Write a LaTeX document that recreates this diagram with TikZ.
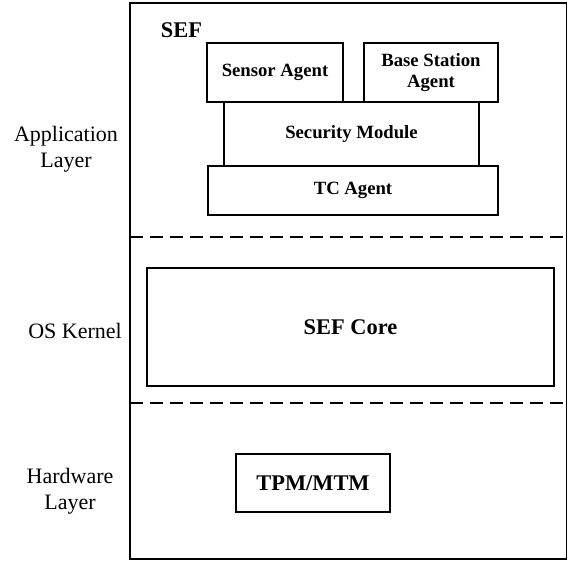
\documentclass[tikz,border=0pt]{standalone}
\usepackage{fontspec}
\setmainfont{Liberation Serif}
\begin{document}
\begin{tikzpicture}[x=1pt,y=-1pt,
  layerlabel/.style={align=center,font=\fontsize{22}{26}\selectfont},
  modbox/.style={draw,line width=1.1pt,inner sep=0pt,align=center,
    font=\fontsize{18.7}{21}\selectfont\bfseries},
  bigbox/.style={draw,line width=1.1pt,inner sep=0pt,align=center,
    font=\fontsize{22.4}{26}\selectfont\bfseries},
  sep/.style={dashed,dash pattern=on 13pt off 7pt,line width=1.2pt}]
\useasboundingbox (0,0) rectangle (568,560);

% outer frame and layer separators
\draw[line width=1.8pt] (130,3) rectangle (566.5,559);
\coordinate (s1l) at (130,237);
\coordinate (s1r) at (566.5,237);
\coordinate (s2l) at (130,403);
\coordinate (s2r) at (566.5,403);
\draw[sep] (s1l) -- (s1r);
\draw[sep] (s2l) -- (s2r);

% layer names
\node[layerlabel] (app) at (66,149) {Application\\Layer};
\node[layerlabel,anchor=base] (os) at (75,338) {OS Kernel};
\node[layerlabel] (hw) at (70,491) {Hardware\\Layer};

% application layer
\node[font=\fontsize{22.4}{26}\selectfont\bfseries,anchor=base] (sef) at (181.5,37) {SEF};
\node[modbox,minimum width=136pt,minimum height=59pt] (sensor) at (275,72.5) {Sensor Agent};
\node[modbox,minimum width=134pt,minimum height=59pt] (base) at (431,72.5) {\rule{0pt}{0pt}Base Station\\Agent};
\node[modbox,minimum width=255pt,minimum height=64pt] (secmod) at (351.5,134) {Security Module};
\node[modbox,minimum width=290pt,minimum height=49pt] (tc) at (353,190.5) {TC Agent};

% kernel and hardware
\node[bigbox,minimum width=407pt,minimum height=118pt] (core) at (350.5,327) {SEF Core};
\node[bigbox,minimum width=154pt,minimum height=58pt] (tpm) at (313,483) {TPM/MTM};
\end{tikzpicture}
\end{document}
